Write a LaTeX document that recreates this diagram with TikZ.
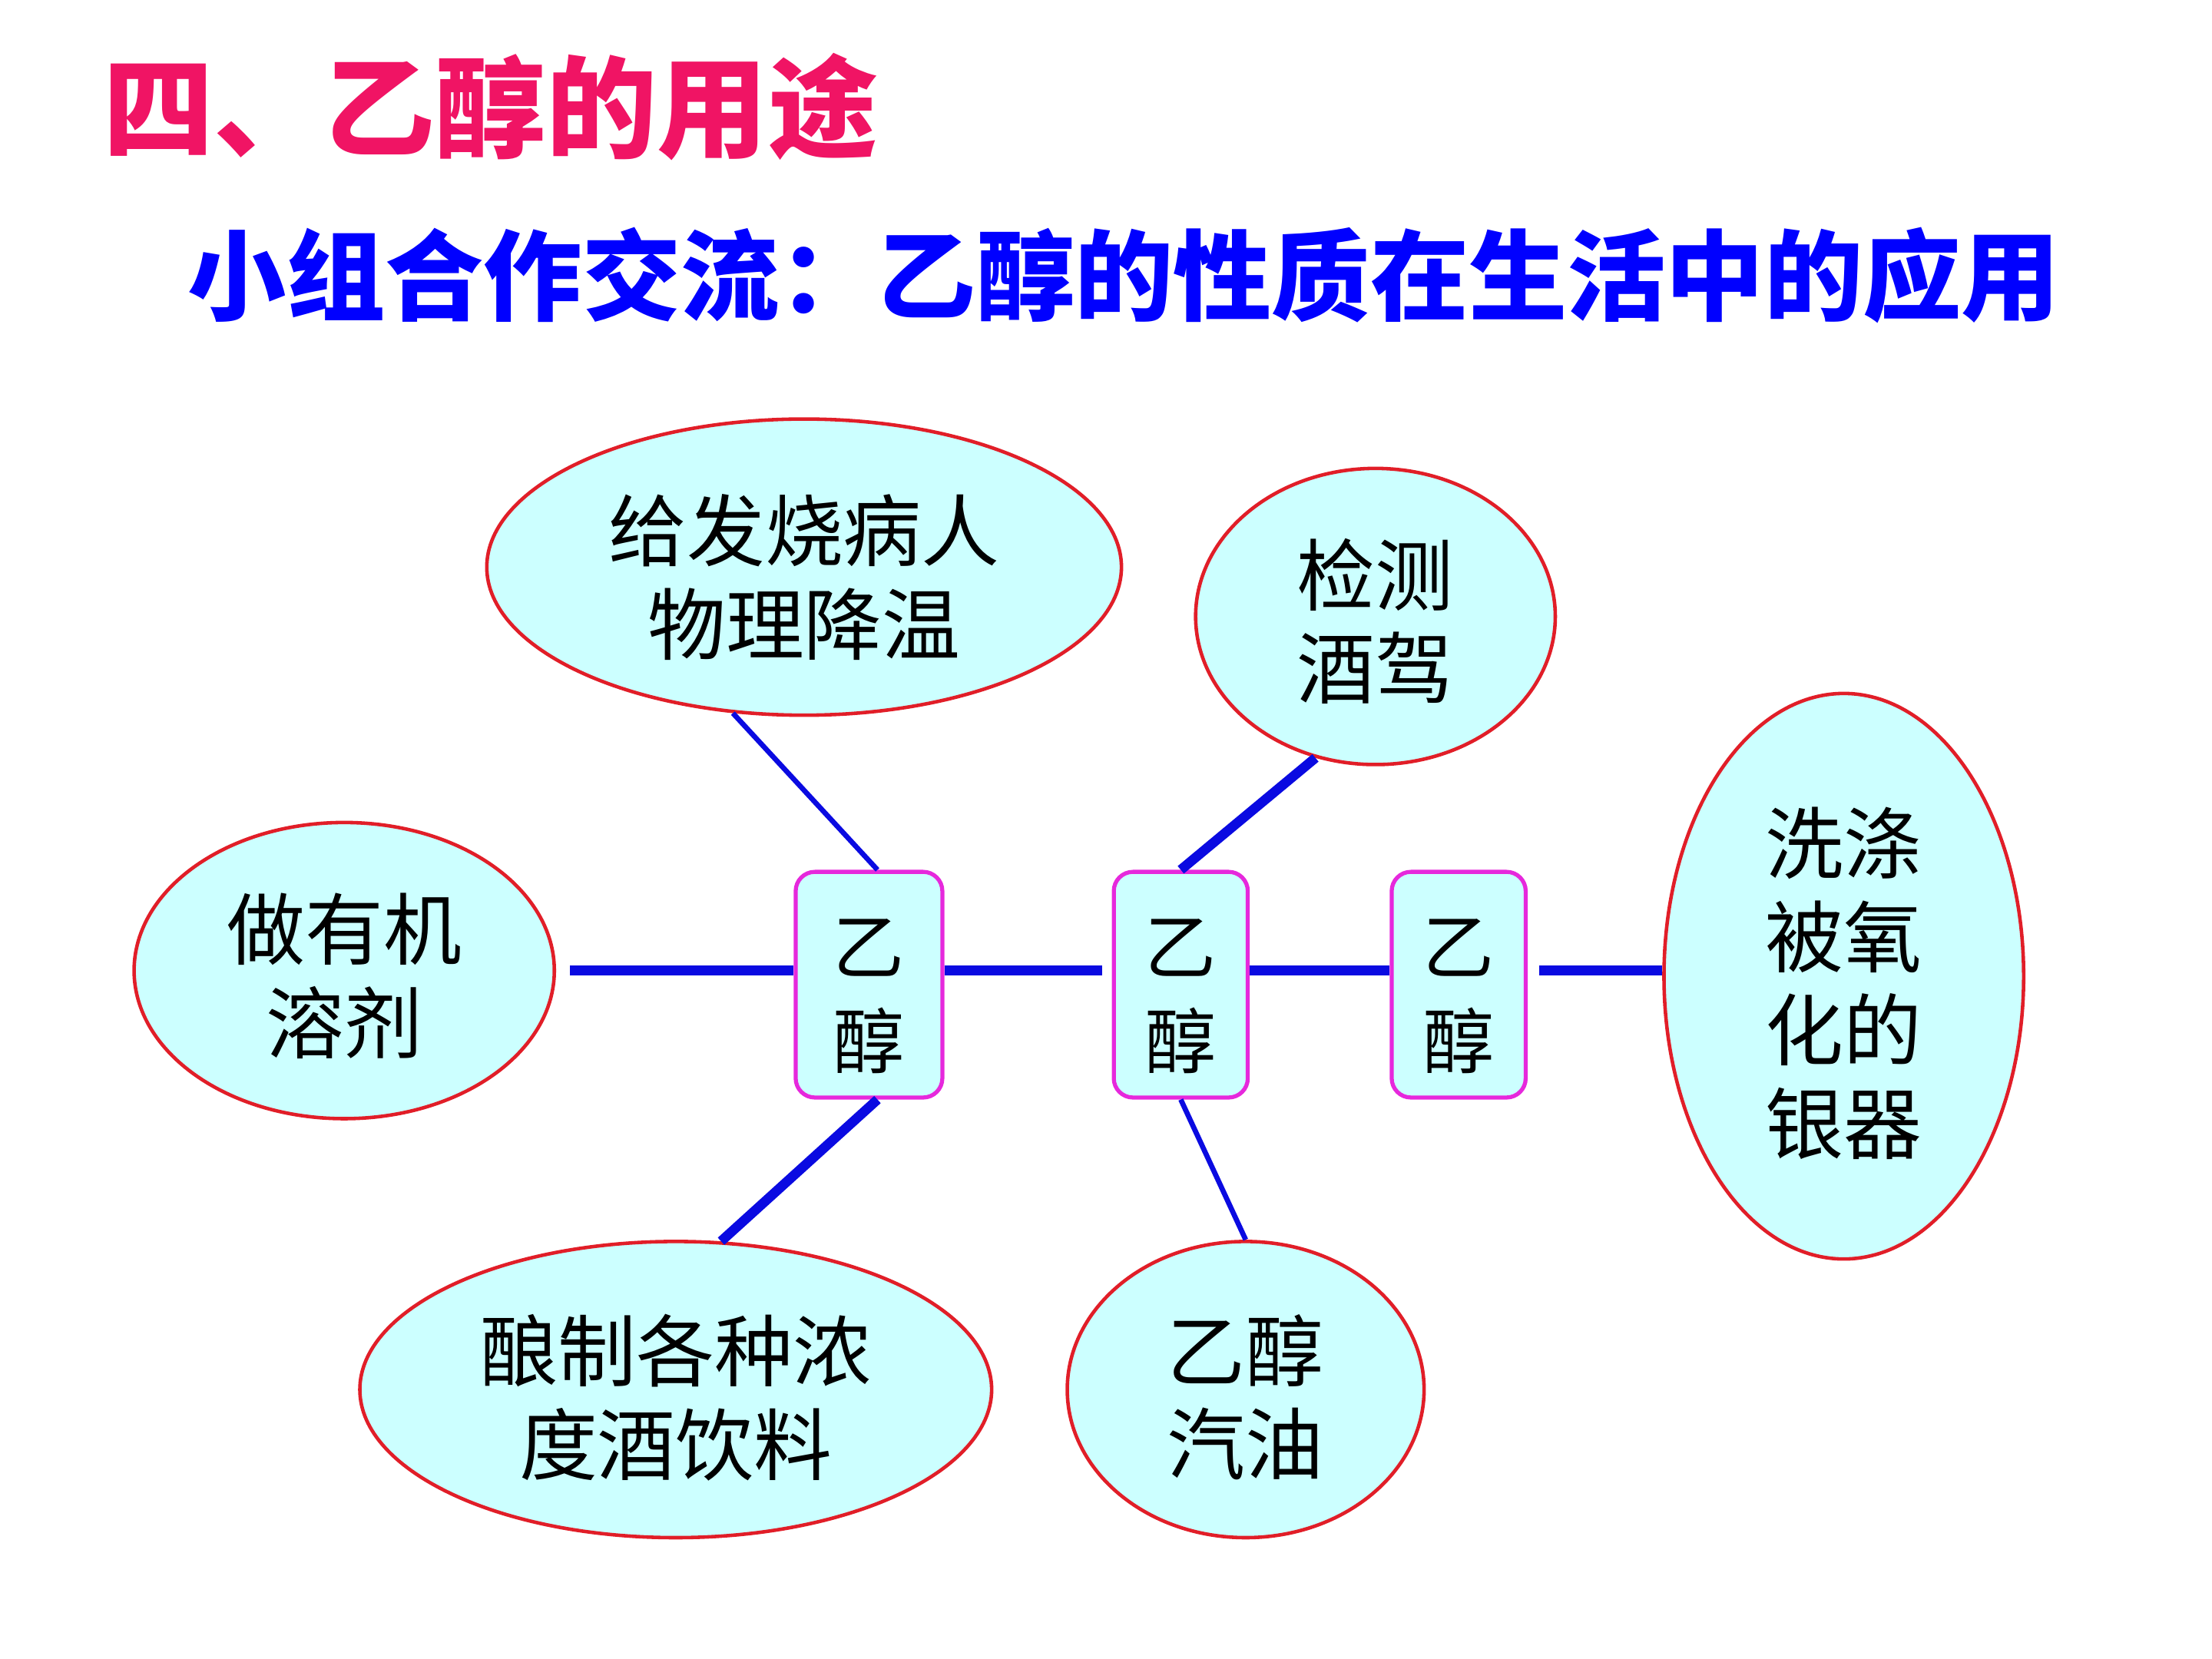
\documentclass[tikz,border=0pt]{standalone}
\usepackage{fontspec}
\setmainfont{Noto Sans CJK SC}
\usetikzlibrary{shapes.geometric,calc}
\definecolor{ttl}{RGB}{240,20,100}
\definecolor{sub}{RGB}{0,0,255}
\definecolor{cy}{RGB}{204,255,255}
\definecolor{ered}{RGB}{225,30,40}
\definecolor{bmag}{RGB}{230,40,220}
\definecolor{lblue}{RGB}{10,10,225}
\newcommand\lowtxt[2]{\raisebox{#1}[\height][\depth]{\begin{tabular}{@{}c@{}}#2\end{tabular}}}
\begin{document}
\begin{tikzpicture}[x=0.018367cm,y=-0.018367cm,
 ell/.style={ellipse,draw=ered,line width=1.3pt,fill=cy,inner sep=0pt,align=center,font=\fontsize{29}{34}\selectfont},
 ebox/.style={rectangle,rounded corners=0.25cm,draw=bmag,line width=1.5pt,fill=cy,inner sep=0pt,align=center,minimum height=2.939cm,font=\fontsize{26.5}{35}\selectfont},
 linka/.style={lblue,line width=1.9pt},
 linkb/.style={lblue,line width=3.6pt}]
\fill[white] (0,0) rectangle (1568,1176);
\useasboundingbox (0,0) rectangle (1568,1176);

\node[anchor=west,inner sep=0,text=ttl,font=\bfseries\fontsize{41}{41}\selectfont] (title) at (73,76) {四、乙醇的用途};
\node[anchor=west,inner sep=0,text=sub,font=\bfseries\fontsize{36.5}{36.5}\selectfont] (subt) at (133,195) {小组合作交流：乙醇的性质在生活中的应用};

\node[ell,minimum width=8.265cm,minimum height=3.857cm] (e1) at (570,402) {\lowtxt{-0.27cm}{给发烧病人\\物理降温}};
\node[ell,minimum width=4.684cm,minimum height=3.857cm] (e2) at (975,437) {\lowtxt{-0.2cm}{检测\\酒驾}};
\node[ell,minimum width=5.473cm,minimum height=3.857cm] (e3) at (244,688) {\lowtxt{-0.21cm}{做有机\\溶剂}};
\node[ell,minimum width=4.684cm,minimum height=7.365cm] (e4) at (1307,692) {\lowtxt{-0.23cm}{洗涤\\被氧\\化的\\银器}};
\node[ell,minimum width=8.228cm,minimum height=3.857cm] (e5) at (479,985) {\lowtxt{-0.24cm}{酿制各种浓\\度酒饮料}};
\node[ell,minimum width=4.647cm,minimum height=3.857cm] (e6) at (883,985) {\lowtxt{-0.24cm}{乙醇\\汽油}};

\node[ebox,minimum width=1.910cm] (b1) at (616,698) {\lowtxt{-0.22cm}{乙\\醇}};
\node[ebox,minimum width=1.745cm] (b2) at (837,698) {\lowtxt{-0.22cm}{乙\\醇}};
\node[ebox,minimum width=1.745cm] (b3) at (1034,698) {\lowtxt{-0.22cm}{乙\\醇}};

\draw[linkb] ([xshift=0.18cm]e3.east) -- (b1.west |- e3.east);
\draw[linkb] (b1.east |- e3.east) -- ([xshift=-0.13cm]b2.west |- e3.east);
\draw[linkb] (b2.east |- e3.east) -- (b3.west |- e3.east);
\draw[linkb] ([xshift=0.15cm]b3.east |- e3.east) -- (e4.west |- e3.east);

\draw[linka] (e1.-116.6) -- ($(b1.north)+(6,0)$);
\draw[linkb] (e2.-113.6) -- (b2.north);
\draw[linkb] ($(b1.south)+(6,0)$) -- (e5.73.5);
\draw[linka] (b2.south) -- (e6.north);
\end{tikzpicture}
\end{document}
